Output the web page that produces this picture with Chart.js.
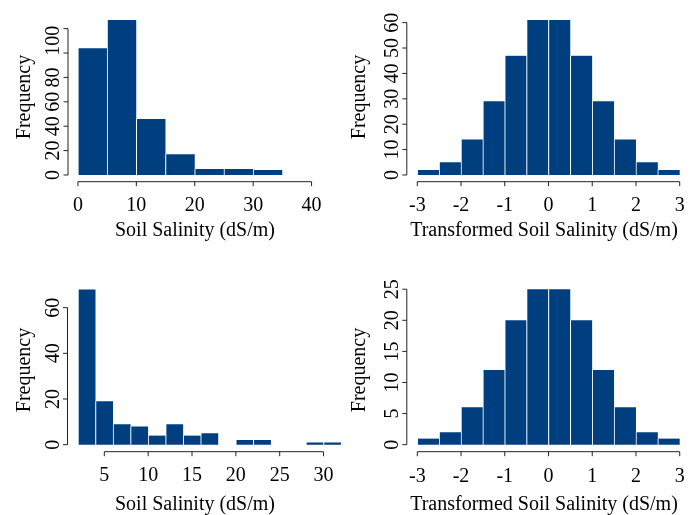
<!DOCTYPE html>
<html>
<head>
<meta charset="utf-8">
<script src="https://cdn.jsdelivr.net/npm/chart.js@4"></script>
<style>
  body { margin: 0; background: #fff; }
  #wrap { position: relative; width: 697px; height: 515px; }
  canvas { position: absolute; left: 0; top: 0; }
</style>
</head>
<body>
<div id="wrap">
  <canvas id="h1" width="697" height="515"></canvas>
  <canvas id="h2" width="697" height="515"></canvas>
  <canvas id="h3" width="697" height="515"></canvas>
  <canvas id="h4" width="697" height="515"></canvas>
</div>
<script>
// top left: raw salinity, bins of 5
const mids1 = [2.5, 7.5, 12.5, 17.5, 22.5, 27.5, 32.5];
const counts1 = [104, 127, 46, 17, 5, 5, 4];
const xTicks1 = [0, 10, 20, 30, 40];
const yTicks1 = [0, 20, 40, 60, 80, 100, 120];
const yLabels1 = ['0', '20', '40', '60', '80', '100', ''];
// the "100" label sits higher than its tick in the original
const yLabelAt1 = [0, 20, 40, 60, 80, 110, 120];

// top right: transformed, bins of 0.5
const mids2 = [-2.75, -2.25, -1.75, -1.25, -0.75, -0.25, 0.25, 0.75, 1.25, 1.75, 2.25, 2.75];
const counts2 = [2, 5, 14, 29, 47, 61, 61, 47, 29, 14, 5, 2];
const xTicks2 = [-3, -2, -1, 0, 1, 2, 3];
const yTicks2 = [0, 10, 20, 30, 40, 50, 60];

// bottom left: raw salinity, bins of 2
const mids3 = [3, 5, 7, 9, 11, 13, 15, 17, 19, 21, 23, 25, 27, 29, 31];
const counts3 = [68, 19, 9, 8, 4, 9, 4, 5, 0, 2, 2, 0, 0, 1, 1];
const xTicks3 = [5, 10, 15, 20, 25, 30];
const yTicks3 = [0, 20, 40, 60];

// bottom right: transformed
const mids4 = [-2.75, -2.25, -1.75, -1.25, -0.75, -0.25, 0.25, 0.75, 1.25, 1.75, 2.25, 2.75];
const counts4 = [1, 2, 6, 12, 20, 25, 25, 20, 12, 6, 2, 1];
const xTicks4 = [-3, -2, -1, 0, 1, 2, 3];
const yTicks4 = [0, 5, 10, 15, 20, 25];

const barColor = '#003F7F';
const font = '20px "Liberation Serif", "Times New Roman", serif';
const W = 697, H = 515;

// base R style axes: line only from first to last tick, ticks outward
function rAxes(ax) {
  return {
    id: 'rAxes',
    afterDraw(chart) {
      const { ctx, chartArea: a } = chart;
      const x = chart.scales.x, y = chart.scales.y;
      const tick = 4.5;
      ctx.save();
      ctx.strokeStyle = '#222';
      ctx.lineWidth = 1;
      ctx.beginPath();
      const xs = ax.xTicks.map(v => x.getPixelForValue(v));
      ctx.moveTo(xs[0], a.bottom);
      ctx.lineTo(xs[xs.length - 1], a.bottom);
      xs.forEach(px => { ctx.moveTo(px, a.bottom); ctx.lineTo(px, a.bottom + tick); });
      const ys = ax.yTicks.map(v => y.getPixelForValue(v));
      ctx.moveTo(a.left, ys[0]);
      ctx.lineTo(a.left, ys[ys.length - 1]);
      ys.forEach(py => { ctx.moveTo(a.left, py); ctx.lineTo(a.left - tick, py); });
      ctx.stroke();

      ctx.fillStyle = '#000';
      ctx.font = font;
      ctx.textAlign = 'center';
      ctx.textBaseline = 'alphabetic';
      ax.xTicks.forEach((v, i) => ctx.fillText(String(v), xs[i], ax.xLabelY));
      ctx.fillText(ax.xTitle, ax.xTitleX, ax.xTitleY);

      const yLabels = ax.yLabels || ax.yTicks.map(String);
      const yAt = ax.yLabelAt || ax.yTicks;
      yAt.forEach((v, i) => {
        ctx.save();
        ctx.translate(a.left - 9, y.getPixelForValue(v));
        ctx.rotate(-Math.PI / 2);
        ctx.fillText(yLabels[i], 0, 0);
        ctx.restore();
      });
      ctx.save();
      ctx.translate(ax.yTitleX, ax.yTitleY);
      ctx.rotate(-Math.PI / 2);
      ctx.fillText('Frequency', 0, 0);
      ctx.restore();
      ctx.restore();
    }
  };
}

function histogram(id, mids, counts, ax) {
  new Chart(document.getElementById(id), {
    type: 'bar',
    data: {
      datasets: [{
        data: mids.map((m, i) => ({ x: m, y: counts[i] })),
        backgroundColor: barColor,
        borderColor: '#ffffff',
        borderWidth: { left: 1, right: 0, top: 0, bottom: 0 },
        barPercentage: 1,
        categoryPercentage: 1
      }]
    },
    options: {
      responsive: false,
      animation: false,
      devicePixelRatio: 1,
      events: [],
      layout: {
        padding: { left: ax.left, right: W - ax.right, top: ax.top, bottom: H - ax.bottom }
      },
      plugins: { legend: { display: false }, tooltip: { enabled: false } },
      scales: {
        x: {
          type: 'linear', display: false, offset: false, bounds: 'data', min: ax.xMin, max: ax.xMax,
          // hidden ticks on the bin centres so the bar width equals one bin
          afterBuildTicks: s => { s.ticks = mids.map(v => ({ value: v })); }
        },
        y: { type: 'linear', display: false, bounds: 'data', min: ax.yMin, max: ax.yMax }
      }
    },
    plugins: [rAxes(ax)]
  });
}

histogram('h1', mids1, counts1, {
  left: 68, right: 321.5, top: 14, bottom: 181.7,
  xMin: -1.7, xMax: 41.7, yMin: -5.5, yMax: 132,
  xTicks: xTicks1, yTicks: yTicks1, yLabels: yLabels1, yLabelAt: yLabelAt1,
  xLabelY: 210.5, xTitle: 'Soil Salinity (dS/m)', xTitleX: 195, xTitleY: 236,
  yTitleX: 29.5, yTitleY: 97
});

histogram('h2', mids2, counts2, {
  left: 406.8, right: 690.2, top: 14, bottom: 181.7,
  xMin: -3.24, xMax: 3.24, yMin: -2.64, yMax: 63.4,
  xTicks: xTicks2, yTicks: yTicks2,
  xLabelY: 210.5, xTitle: 'Transformed Soil Salinity (dS/m)', xTitleX: 544, xTitleY: 236,
  yTitleX: 364.5, yTitleY: 97
});

histogram('h3', mids3, counts3, {
  left: 67.5, right: 351.6, top: 283, bottom: 451.7,
  xMin: 0.8, xMax: 33.2, yMin: -3.07, yMax: 70.8,
  xTicks: xTicks3, yTicks: yTicks3,
  xLabelY: 481, xTitle: 'Soil Salinity (dS/m)', xTitleX: 195, xTitleY: 510,
  yTitleX: 29.5, yTitleY: 370
});

histogram('h4', mids4, counts4, {
  left: 406.8, right: 690.2, top: 283, bottom: 451.7,
  xMin: -3.24, xMax: 3.24, yMin: -1.13, yMax: 26.0,
  xTicks: xTicks4, yTicks: yTicks4,
  xLabelY: 482, xTitle: 'Transformed Soil Salinity (dS/m)', xTitleX: 544, xTitleY: 510,
  yTitleX: 364.5, yTitleY: 370
});
</script>
</body>
</html>
